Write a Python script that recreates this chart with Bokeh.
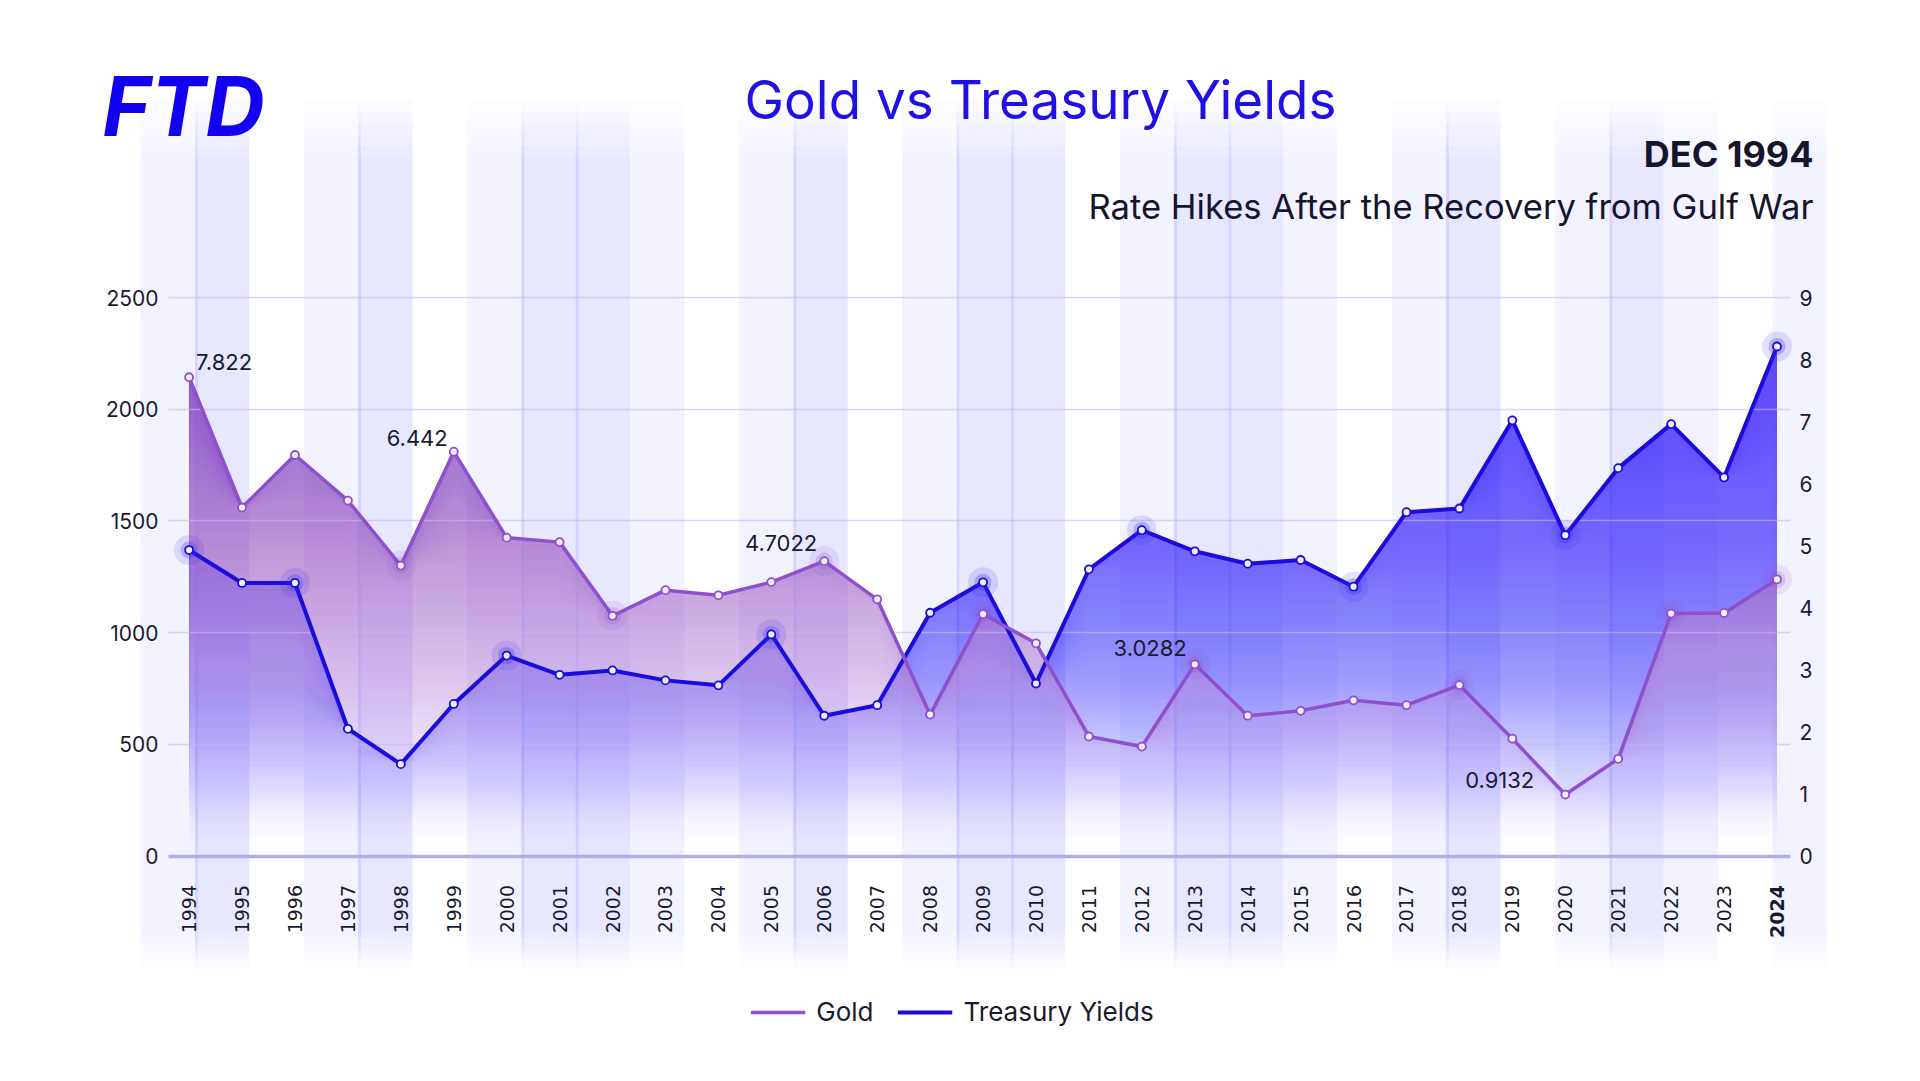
import math
import numpy as np
from bokeh.plotting import figure
from bokeh.models import (Range1d, LinearAxis, FixedTicker, Grid, Legend,
                          LegendItem, ColumnDataSource)
from bokeh.core.properties import value, field
from bokeh.embed import file_html
from bokeh.resources import INLINE

# ---------------- data ----------------
years = ["1994", "1995", "1996", "1997", "1998", "1999", "2000", "2001", "2002", "2003",
         "2004", "2005", "2006", "2007", "2008", "2009", "2010", "2011", "2012", "2013",
         "2014", "2015", "2016", "2017", "2018", "2019", "2020", "2021", "2022", "2023", "2024"]
gold = [2143, 1560, 1795, 1591, 1300, 1810, 1425, 1405, 1075, 1190,
        1167, 1226, 1320, 1149, 633, 1083, 952, 535, 490, 858,
        628, 650, 697, 675, 765, 525, 275, 435, 1085, 1088, 1238]
yields = [4.93, 4.40, 4.40, 2.05, 1.48, 2.45, 3.23, 2.92, 2.99, 2.83,
          2.75, 3.57, 2.26, 2.43, 3.92, 4.41, 2.78, 4.62, 5.25, 4.91,
          4.71, 4.77, 4.34, 5.54, 5.60, 7.02, 5.17, 6.25, 6.96, 6.10, 8.21]
gold_ticks = [0, 500, 1000, 1500, 2000, 2500]
yield_ticks = [0, 1, 2, 3, 4, 5, 6, 7, 8, 9]
label_idx = [0, 5, 12, 19, 26]
label_text = ["7.822", "6.442", "4.7022", "3.0282", "0.9132"]
gold_glow = [4, 8, 12, 15, 19, 24, 28, 30]
yield_glow = [0, 2, 6, 11, 15, 18, 22, 26, 30]
band_pattern = [1, 2, 0, 1, 2, 0, 1, 2, 2, 1, 0, 1, 2, 0, 1, 2, 2, 0, 1, 2, 2, 1, 0, 1, 2, 0, 1, 2, 1, 0, 1]

# ---------------- geometry (style constants) ----------------
W, H = 1904, 1065
SX = 52.93      # px per category
X0 = 188.6      # canvas px of first category
SY = 0.2234     # px per gold unit
Y0 = 855.5      # canvas px of zero
GTOP, YTOP = 2500.0, 9.0
K = YTOP / GTOP


def xd(px):
    return (px - X0) / SX


def yd(py):
    return (Y0 - py) / SY


GOLD_LINE = "#8e50cc"
YIELD_LINE = "#1a0cdc"
TXT = "#1a1a2e"

p = figure(width=W, height=H, x_range=Range1d(xd(0), xd(W)),
           y_range=Range1d(yd(H), yd(0)), x_axis_type=None, y_axis_type=None,
           output_backend="svg", toolbar_location=None, min_border=0,
           outline_line_color=None, background_fill_color="white",
           border_fill_color="white")
p.extra_y_ranges = {"yields": Range1d(yd(H) * K, yd(0) * K)}

# ---------------- background bands ----------------
BAND_X0 = xd(140)
BAND_W = 54.4 / SX
NL = 6
band_alpha = {1: 0.075, 2: 0.14}
bl, br, bb, bt, ba = [], [], [], [], []


def add_band(left, right, A):
    a1 = 1 - (1 - A) ** (1.0 / NL)
    for j in range(NL):
        top_px = 100 + j * 57.0 / (NL - 1)
        bot_px = 968 - j * 38.0 / (NL - 1)
        bl.append(left); br.append(right)
        bt.append(yd(top_px)); bb.append(yd(bot_px)); ba.append(a1)


for i, kind in enumerate(band_pattern):
    if kind == 0:
        continue
    left = BAND_X0 + i * BAND_W
    add_band(left, left + BAND_W, band_alpha[kind])
    if kind == 2:
        add_band(left, left + 3.0 / SX, 0.11)

band_src = ColumnDataSource(dict(left=bl, right=br, bottom=bb, top=bt, alpha=ba))
p.quad(left="left", right="right", bottom="bottom", top="top", source=band_src,
       fill_color="#5c58f0", fill_alpha="alpha", line_color=None)

# ---------------- gradient fills ----------------
xi = np.arange(len(years))
g = np.array(gold, float)
yv = np.array(yields, float)
DS = 0.01


def layer_list(A_s, A_v, T_s, T_rgb, s_max):
    s_k = np.arange(0, s_max, DS)
    mid = s_k + DS / 2
    A = np.interp(mid, A_s, A_v)
    T_rgb = np.array(T_rgb, float)
    T = np.stack([np.interp(mid, T_s, T_rgb[:, c]) for c in range(3)], axis=1)
    out = []
    prevA = 0.0
    prevP = np.zeros(3)
    for k in range(len(s_k)):
        a = 1 - (1 - A[k]) / (1 - prevA)
        if a > 1e-4:
            P = A[k] * T[k]
            C = np.clip((P - (1 - a) * prevP) / a, 0, 255)
            out.append((s_k[k], a, C))
            prevP = a * C + (1 - a) * prevP
            prevA = 1 - (1 - prevA) * (1 - a)
    return out


def hexc(c):
    return "#%02x%02x%02x" % tuple(int(round(v)) for v in c)


blue_layers = layer_list([0, 0.06, 0.14, 0.22, 0.32, 0.42, 0.6, 0.92],
                         [0, 0.04, 0.15, 0.31, 0.5, 0.62, 0.74, 0.86],
                         [0, 1], [[80, 72, 240], [80, 72, 240]], 0.93)
for s0, a, C in blue_layers:
    base = s0 * YTOP
    if np.all(yv <= base):
        continue
    p.varea(x=xi, y1=np.minimum(base, yv), y2=yv, fill_color=hexc(C), fill_alpha=a,
            y_range_name="yields")

gold_layers = layer_list([0, 0.06, 0.14, 0.22, 0.32, 0.42, 0.6, 0.86],
                         [0, 0.05, 0.18, 0.37, 0.56, 0.68, 0.79, 0.9],
                         [0, 0.2, 0.4, 0.6, 0.86],
                         [[222, 196, 240], [210, 176, 236], [197, 154, 229],
                          [178, 125, 222], [150, 95, 212]], 0.88)
for s0, a, C in gold_layers:
    base = s0 * GTOP
    if np.all(g <= base):
        continue
    p.varea(x=xi, y1=np.minimum(base, g), y2=g, fill_color=hexc(C), fill_alpha=a)

# ---------------- grid ----------------
grid = Grid(dimension=1, ticker=FixedTicker(ticks=gold_ticks[1:]),
            grid_line_color="#c4b8ee", grid_line_alpha=0.6, grid_line_width=1.3,
            level="guide")
if "cross_bounds" in Grid.properties():
    grid.cross_bounds = (xd(168), xd(1790))
p.add_layout(grid)

# ---------------- lines & markers ----------------
yl = p.line(xi, yv, line_color=YIELD_LINE, line_width=4, y_range_name="yields",
            level="overlay", line_join="round")
gl = p.line(xi, g, line_color=GOLD_LINE, line_width=3.5, level="overlay",
            line_join="round")

p.scatter([xi[i] for i in gold_glow], [g[i] for i in gold_glow], size=30,
          fill_color=GOLD_LINE, fill_alpha=0.12, line_color=None, level="overlay")
p.scatter([xi[i] for i in gold_glow], [g[i] for i in gold_glow], size=17,
          fill_color=GOLD_LINE, fill_alpha=0.22, line_color=None, level="overlay")
p.scatter([xi[i] for i in yield_glow], [yv[i] for i in yield_glow], size=30,
          fill_color="#3a2cf0", fill_alpha=0.14, line_color=None, level="overlay",
          y_range_name="yields")
p.scatter([xi[i] for i in yield_glow], [yv[i] for i in yield_glow], size=17,
          fill_color="#3a2cf0", fill_alpha=0.26, line_color=None, level="overlay",
          y_range_name="yields")
p.scatter(xi, g, size=8, fill_color="#f4eefc", line_color=GOLD_LINE, line_width=1.8,
          level="overlay")
p.scatter(xi, yv, size=8, fill_color="#eeeeff", line_color=YIELD_LINE, line_width=1.8,
          level="overlay", y_range_name="yields")

# ---------------- data labels ----------------
lab_src = ColumnDataSource(dict(
    x=[xi[i] for i in label_idx], y=[g[i] for i in label_idx], text=label_text,
    xo=[7, -6, -7, -8, -31], yo=[-15, -14, -18, -16, -15],
    align=["left", "right", "right", "right", "right"]))
p.text(x="x", y="y", text="text", source=lab_src, x_offset="xo", y_offset="yo",
       text_align=field("align"), text_baseline="alphabetic",
       text_font=value("Inter"), text_font_size="22px", text_color=TXT, level="overlay")

# ---------------- axes ----------------
xaxis = LinearAxis(ticker=FixedTicker(ticks=list(range(len(years)))),
                   major_label_overrides={i: (years[i] if i < len(years) - 1 else "")
                                          for i in range(len(years))},
                   fixed_location=0, bounds=(xd(168), xd(1790)),
                   axis_line_color="#b3ade6", axis_line_width=3.5,
                   major_tick_line_color=None, minor_tick_line_color=None,
                   major_tick_out=0, major_tick_in=0,
                   major_label_orientation=math.pi / 2, major_label_standoff=29,
                   major_label_text_font="DejaVu Sans", major_label_text_font_size="19px",
                   major_label_text_color=TXT)
p.add_layout(xaxis, "below")
xaxis_b = LinearAxis(ticker=FixedTicker(ticks=[len(years) - 1]),
                     major_label_overrides={len(years) - 1: years[-1]},
                     fixed_location=0, axis_line_color=None,
                     major_tick_line_color=None, minor_tick_line_color=None,
                     major_tick_out=0, major_tick_in=0,
                     major_label_orientation=math.pi / 2, major_label_standoff=29,
                     major_label_text_font="DejaVu Sans", major_label_text_font_size="19px",
                     major_label_text_font_style="bold", major_label_text_color=TXT)
p.add_layout(xaxis_b, "below")

yaxis_l = LinearAxis(ticker=FixedTicker(ticks=gold_ticks), fixed_location=xd(166),
                     axis_line_color=None, major_tick_line_color=None,
                     minor_tick_line_color=None, major_tick_out=0, major_tick_in=0,
                     major_label_standoff=8,
                     major_label_text_font="Inter", major_label_text_font_size="21px",
                     major_label_text_color=TXT)
p.add_layout(yaxis_l, "left")
yaxis_r = LinearAxis(y_range_name="yields", ticker=FixedTicker(ticks=yield_ticks),
                     fixed_location=xd(1791), axis_line_color=None,
                     major_tick_line_color=None, minor_tick_line_color=None,
                     major_tick_out=0, major_tick_in=0,
                     major_label_standoff=8, major_label_text_font="Inter",
                     major_label_text_font_size="21px", major_label_text_color=TXT)
p.add_layout(yaxis_r, "right")

# ---------------- titles & logo ----------------
def add_text(px, py, txt, size, color, align, style="normal"):
    p.text(x=[xd(px)], y=[yd(py)], text=[txt], text_font=value("Inter"),
           text_font_size=size, text_font_style=style, text_color=color,
           text_align=align, text_baseline="alphabetic", level="overlay")


add_text(102, 106, "FTD", "82px", "#1400f0", "left", "bold italic")
add_text(1040, 99, "Gold vs Treasury Yields", "53px", "#1f10e6", "center")
add_text(1813, 153, "DEC 1994", "36px", "#15152e", "right", "bold")
add_text(1813, 205, "Rate Hikes After the Recovery from Gulf War", "34.6px", "#15152e", "right")

# ---------------- legend ----------------
legend = Legend(items=[LegendItem(label="Gold", renderers=[gl]),
                       LegendItem(label="Treasury Yields", renderers=[yl])],
                orientation="horizontal", location="bottom_center", margin=38,
                padding=0, spacing=24, glyph_width=55, glyph_height=20,
                label_standoff=11, label_text_font="Inter", label_text_font_size="26px",
                label_text_color=TXT, background_fill_alpha=0, border_line_color=None)
p.add_layout(legend)

open("out.html", "w").write(file_html(p, INLINE))
